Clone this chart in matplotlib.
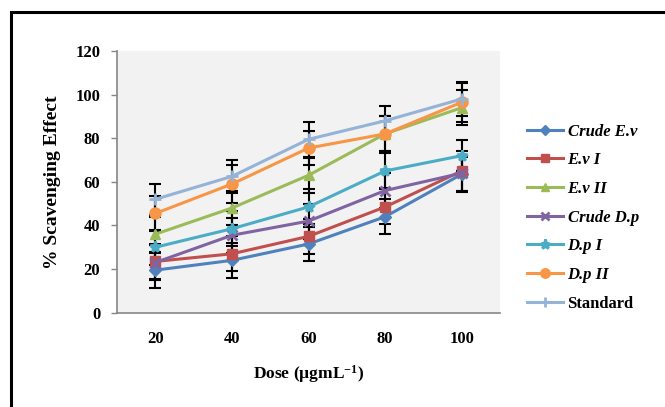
import matplotlib
matplotlib.use("Agg")
import matplotlib.pyplot as plt
from matplotlib.patches import Rectangle
import numpy as np

doses = ["20", "40", "60", "80", "100"]
series_names = ["Crude E.v", "E.v I", "E.v II", "Crude D.p", "D.p I", "D.p II", "Standard"]
crude_ev = [19.5, 24, 31.5, 44, 63.5]
ev_1 = [23.5, 27, 35, 48.5, 65]
ev_2 = [36, 48, 63, 82, 94]
crude_dp = [23, 35.5, 42, 56, 64]
dp_1 = [30, 38.5, 48.5, 65, 72]
dp_2 = [45.5, 59, 75.5, 82, 96.5]
standard = [52, 62.5, 79.5, 88, 98]
err_crude_ev = [8, 8, 8, 8, 8]
err_ev_1 = [8, 8, 8, 8, 9]
err_ev_2 = [8, 8, 8, 8, 8]
err_crude_dp = [8, 8, 8, 8, 8]
err_dp_1 = [8, 8, 8, 8, 7]
err_dp_2 = [8, 8.5, 8, 8, 9]
err_standard = [7, 7.5, 8, 7, 8]

values = [crude_ev, ev_1, ev_2, crude_dp, dp_1, dp_2, standard]
errors = [err_crude_ev, err_ev_1, err_ev_2, err_crude_dp, err_dp_1, err_dp_2, err_standard]
colors = ["#4F81BD", "#C0504D", "#9BBB59", "#8064A2", "#4BACC6", "#F79646", "#95B3D7"]
markers = ["D", "s", "^", "x", "*", "o", "+"]
msizes = [6, 7.5, 7.5, 7, 8, 8, 9]

plt.rcParams['font.family'] = ['Liberation Serif', 'DejaVu Serif']
plt.rcParams['font.weight'] = 'bold'
plt.rcParams['mathtext.fontset'] = 'custom'
plt.rcParams['mathtext.rm'] = 'Liberation Serif:bold'
plt.rcParams['mathtext.bf'] = 'Liberation Serif:bold'
plt.rcParams['mathtext.it'] = 'Liberation Serif:bold:italic'

fig = plt.figure(figsize=(6.65, 4.07), dpi=100)
fig.patches.append(Rectangle((11/665, -0.1), 1.2, 1 - 12/407 + 0.1, transform=fig.transFigure,
                             fill=False, edgecolor='black', linewidth=2.2, zorder=0))

ax = fig.add_axes([117/665, 1 - 312.7/407, (500 - 117)/665, (312.7 - 51)/407])
ax.set_facecolor('#F2F2F2')
x = np.arange(len(doses))

handles = []
for vals, errs, c, m, ms, name in zip(values, errors, colors, markers, msizes, series_names):
    ax.errorbar(x, vals, yerr=errs, fmt='none', ecolor='black', elinewidth=1.5,
                capsize=4, capthick=1.5, zorder=2)
    mew = 2 if m in ('x', '*', '+') else 1
    h, = ax.plot(x, vals, color=c, linewidth=2.2, marker=m, markersize=ms,
                 markerfacecolor=c, markeredgecolor=c, markeredgewidth=mew, zorder=3, label=name)
    handles.append(h)

ax.set_xlim(-0.5, 4.5)
ax.set_ylim(0, 120)
ax.set_yticks(np.arange(0, 121, 20))
ax.set_xticks(x)
ax.set_xticklabels(doses)
ax.tick_params(axis='x', length=0, pad=13, labelsize=12)
ax.tick_params(axis='y', length=4, width=1, color='#868686', direction='out', pad=8, labelsize=12)
for s in ['top', 'right']:
    ax.spines[s].set_visible(False)
for s in ['left', 'bottom']:
    ax.spines[s].set_color('#868686')
    ax.spines[s].set_linewidth(1.2)

ax.set_ylabel('% Scavenging Effect', fontsize=14, fontweight='bold', labelpad=10)
ax.set_xlabel('Dose (\u00b5gmL$^{-1}$)', fontsize=12.5, fontweight='bold', labelpad=12)

leg = fig.legend(handles=handles, loc='upper left', bbox_to_anchor=(520/665, 1 - 117/407),
                 frameon=False, fontsize=12, handlelength=2.2, handletextpad=0.25,
                 labelspacing=0.76, borderaxespad=0, markerscale=0.85)
for t, name in zip(leg.get_texts(), series_names):
    t.set_fontweight('bold')
    if name != 'Standard':
        t.set_fontstyle('italic')

fig.savefig('out.png', dpi=100)
